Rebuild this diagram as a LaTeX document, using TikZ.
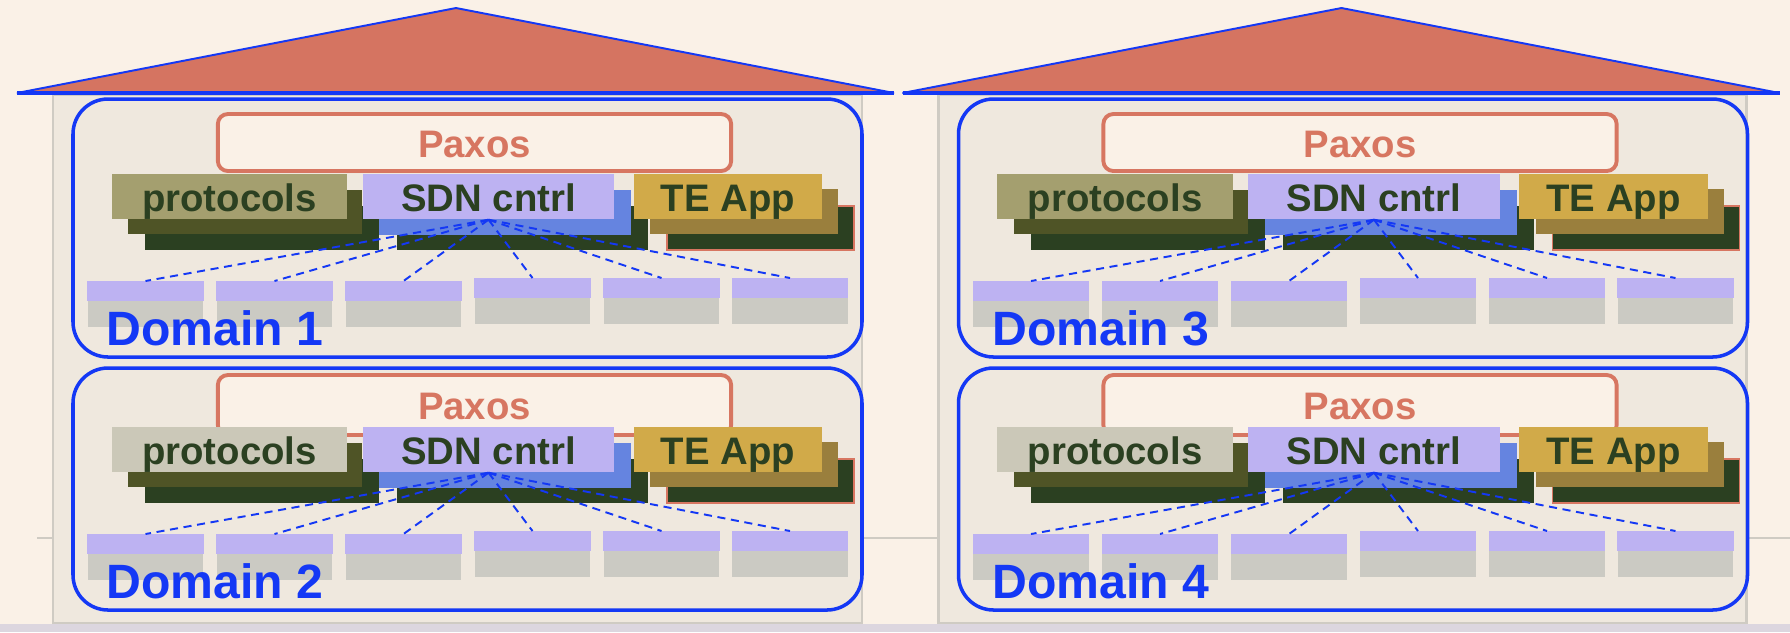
\documentclass[tikz,border=0pt]{standalone}
\usepackage{fontspec}
\setmainfont{Liberation Sans}
\definecolor{bg}{HTML}{FAF1E7}
\definecolor{bodyfill}{HTML}{EFE8DE}
\definecolor{bodyedge}{HTML}{CFCBC3}
\definecolor{bandc}{HTML}{DCD6DF}
\definecolor{roofc}{HTML}{D57461}
\definecolor{dblue}{HTML}{1438F5}
\definecolor{salmonc}{HTML}{D77661}
\definecolor{lav}{HTML}{BDB2F2}
\definecolor{swgray}{HTML}{CBCAC3}
\definecolor{dkgreen}{HTML}{2B4021}
\definecolor{olivec}{HTML}{A49F6F}
\definecolor{protogray}{HTML}{CBC8B8}
\definecolor{protoshade}{HTML}{4F5426}
\definecolor{sdnshade}{HTML}{6584E0}
\definecolor{tegold}{HTML}{D1AA49}
\definecolor{teshade}{HTML}{9A7F3D}
\tikzset{
  boxfont/.style={font=\bfseries\fontsize{10.9}{12}\selectfont},
  frontbox/.style={minimum height=0.45cm, inner sep=0pt, text height=0.29cm, text depth=0pt, text=dkgreen, boxfont},
  paxosbox/.style={draw=salmonc, line width=1.1pt, rounded corners=0.1cm, fill=bg, text=salmonc, inner sep=0pt, text height=0.29cm, text depth=0pt, boxfont},
  switchbox/.style={fill=swgray, minimum width=1.15cm, minimum height=0.45cm, inner sep=0pt},
  domainbox/.style={draw=dblue, line width=1pt, rounded corners=0.35cm},
  link/.style={draw=dblue, dash pattern=on 2.3pt off 1.6pt, line width=0.55pt},
  domlabel/.style={text=dblue, inner sep=0pt, font=\bfseries\fontsize{13.7}{15}\selectfont},
  roofshape/.style={fill=roofc, draw=dblue, line width=0.55pt, line join=miter},
  bodyshape/.style={fill=bodyfill, draw=bodyedge, line width=0.6pt},
  stub/.style={draw=bodyedge, line width=0.6pt},
}
% #1 id, #2 box top, #3 box bottom, #4 content shift, #5 paxos top, #6 paxos bottom, #7 protocols colour, #8 label
\newcommand\mydomain[8]{%
  \draw[domainbox] (73,#2) rectangle (862,#3);
  \node[paxosbox, minimum width=5.13cm, minimum height={(#6-#5)*0.01cm}] (pax#1) at (474.5,{(#5+#6)/2}) {Paxos};
  % protocols
  \fill[dkgreen] (145,{206+#4}) rectangle (379,{250+#4});
  \fill[protoshade] (128,{190+#4}) rectangle (362,{234+#4});
  \node[frontbox, fill=#7, minimum width=2.35cm] (proto#1) at (229.5,{196.5+#4}) {protocols};
  % SDN controller
  \fill[dkgreen] (397,{206+#4}) rectangle (648,{250+#4});
  \fill[sdnshade] (379,{190+#4}) rectangle (631,{235+#4});
  \node[frontbox, fill=lav, minimum width=2.51cm] (sdn#1) at (488.5,{196.5+#4}) {SDN cntrl};
  % TE App
  \filldraw[fill=dkgreen, draw=salmonc, line width=0.3pt] (667,{206+#4}) rectangle (854,{250+#4});
  \fill[teshade] (650,{189+#4}) rectangle (838,{234+#4});
  \node[frontbox, fill=tegold, minimum width=1.88cm] (te#1) at (728,{196.5+#4}) {TE App};
  % switches
  \foreach \k/\xx/\yy in {1/145.5/281, 2/274.5/281, 3/403.5/281, 4/532.5/278, 5/661.5/278, 6/790/278} {
    \node[switchbox, anchor=north] (sw#1\k) at (\xx,{\yy+#4}) {};
    \fill[lav] (sw#1\k.north west) rectangle ([yshift=-0.2cm]sw#1\k.north east);
  }
  \foreach \k in {1,...,6} {
    \draw[link] (sdn#1.south) -- (sw#1\k.north);
  }
  \node[domlabel, anchor=base west] (dom#1) at (106,{345+#4}) {Domain #8};
}
\begin{document}
\begin{tikzpicture}[x=0.01cm, y=-0.01cm]
  \fill[bg] (0,0) rectangle (1790,632);
  \useasboundingbox (0,0) rectangle (1790,632);
  % ground line stubs
  \draw[stub] (37,538) -- (53,538);
  \draw[stub] (862,538) -- (938,538);
  \draw[stub] (1746,538) -- (1790,538);
  % building 1
  \filldraw[bodyshape] (53,95) rectangle (862,623);
  \filldraw[roofshape] (17,93) -- (456,8) -- (894,93) -- cycle;
  \draw[dblue, line width=1pt] (17,93) -- (894,93);
  \mydomain{1}{99}{357}{0}{114}{171}{olivec}{1}
  \mydomain{2}{368}{610}{253}{375}{435}{protogray}{2}
  % building 2
  \begin{scope}[xshift=8.85cm]
    \filldraw[bodyshape] (53,95) rectangle (861,623);
    \filldraw[roofshape] (17,93) -- (456,8) -- (894,93) -- cycle;
    \draw[dblue, line width=1pt] (17,93) -- (894,93);
    \mydomain{3}{99}{357}{0}{114}{171}{olivec}{3}
    \mydomain{4}{368}{610}{253}{375}{435}{protogray}{4}
  \end{scope}
  % bottom band
  \fill[bandc] (0,623.5) rectangle (1790,632);
\end{tikzpicture}
\end{document}
